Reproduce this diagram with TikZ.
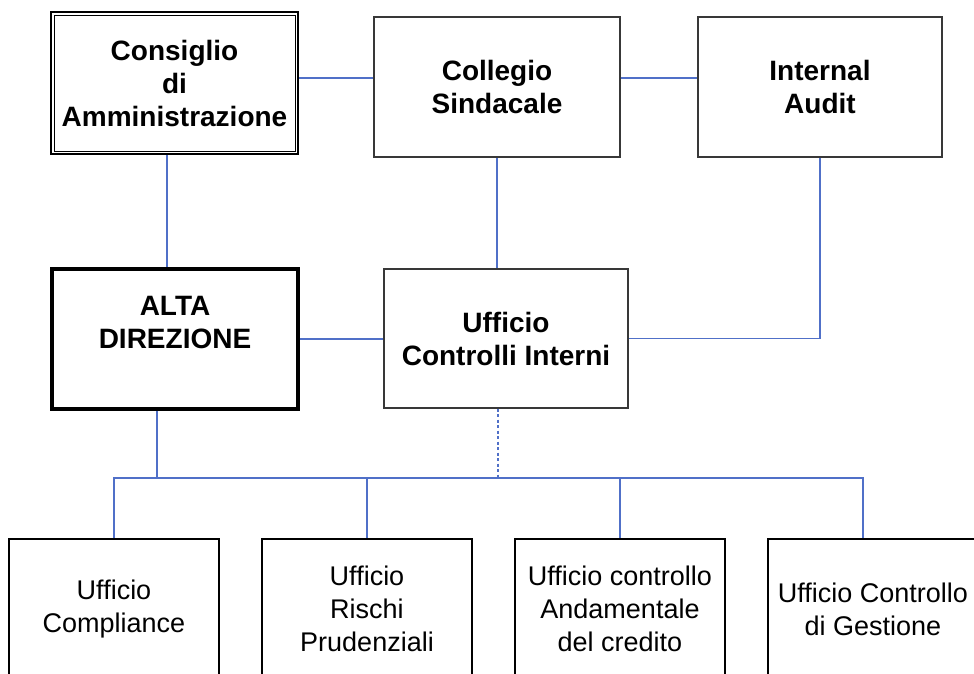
\documentclass[tikz,border=0pt]{standalone}
\usepackage{fontspec}
\setmainfont{Liberation Sans}
\definecolor{linkblue}{RGB}{80,112,200}
\begin{document}
\begin{tikzpicture}[x=1pt,y=-1pt,
  topbox/.style={draw=black!78, line width=1.2pt, minimum width=246pt, minimum height=140pt, align=center, font=\fontsize{28}{33}\selectfont\bfseries, inner sep=0pt},
  botbox/.style={draw=black, line width=1.8pt, minimum width=210pt, minimum height=140pt, align=center, font=\fontsize{27}{33}\selectfont, inner sep=0pt},
  link/.style={draw=linkblue, line width=1.1pt},
  dlink/.style={link, dash pattern=on 3pt off 2.5pt}]
\useasboundingbox (0,0) rectangle (974,673);
\fill[white] (0,0) rectangle (974,673);
% top row
\node[topbox, draw=black, line width=2pt, minimum width=247pt, minimum height=142pt] (cons) at (174.5,83) {Consiglio\\di\\Amministrazione};
\draw[line width=0.9pt] ([shift={(4pt,-4pt)}]cons.north west) rectangle ([shift={(-4pt,4pt)}]cons.south east);
\node[topbox] (coll) at (497,87) {Collegio\\Sindacale};
\node[topbox, minimum width=244pt] (ia) at (820,87) {Internal\\Audit};
% middle row
\node[topbox, draw=black, line width=3.5pt] (alta) at (175,339) {ALTA\\DIREZIONE\\~};
\node[topbox, minimum width=244pt, minimum height=139pt] (uci) at (506,338.5) {Ufficio\\Controlli Interni};
% bottom row
\node[botbox] (b1) at (114,609) {Ufficio\\Compliance};
\node[botbox] (b2) at (367,609) {Ufficio\\Rischi\\Prudenziali};
\node[botbox] (b3) at (620,609) {Ufficio controllo\\Andamentale\\del credito};
\node[botbox] (b4) at (873,609) {Ufficio Controllo\\di Gestione};
% connectors
\coordinate (bus) at (0,478);
\draw[link] ([yshift=5pt]cons.east) -- ([yshift=5pt]cons.east -| coll.west);
\draw[link] ([yshift=9pt]coll.east) -- ([yshift=9pt]coll.east -| ia.west);
\draw[link] ([xshift=-7.5pt]cons.south) -- ([xshift=-7.5pt]cons.south |- alta.north);
\draw[link] (coll.south) -- (coll.south |- uci.north);
\draw[link] (ia.south) |- (uci.east);
\draw[link] (alta.east) -- (alta.east -| uci.west);
\draw[link] ([xshift=-18pt]alta.south) -- ([xshift=-18pt]alta.south |- bus);
\draw[dlink] ([xshift=-8pt]uci.south) -- ([xshift=-8pt]uci.south |- bus);
\draw[link] (b1.north) |- ([xshift=-10pt]b4.north |- bus) -- ([xshift=-10pt]b4.north);
\draw[link] (b2.north) -- (b2.north |- bus);
\draw[link] (b3.north) -- (b3.north |- bus);
\end{tikzpicture}
\end{document}
